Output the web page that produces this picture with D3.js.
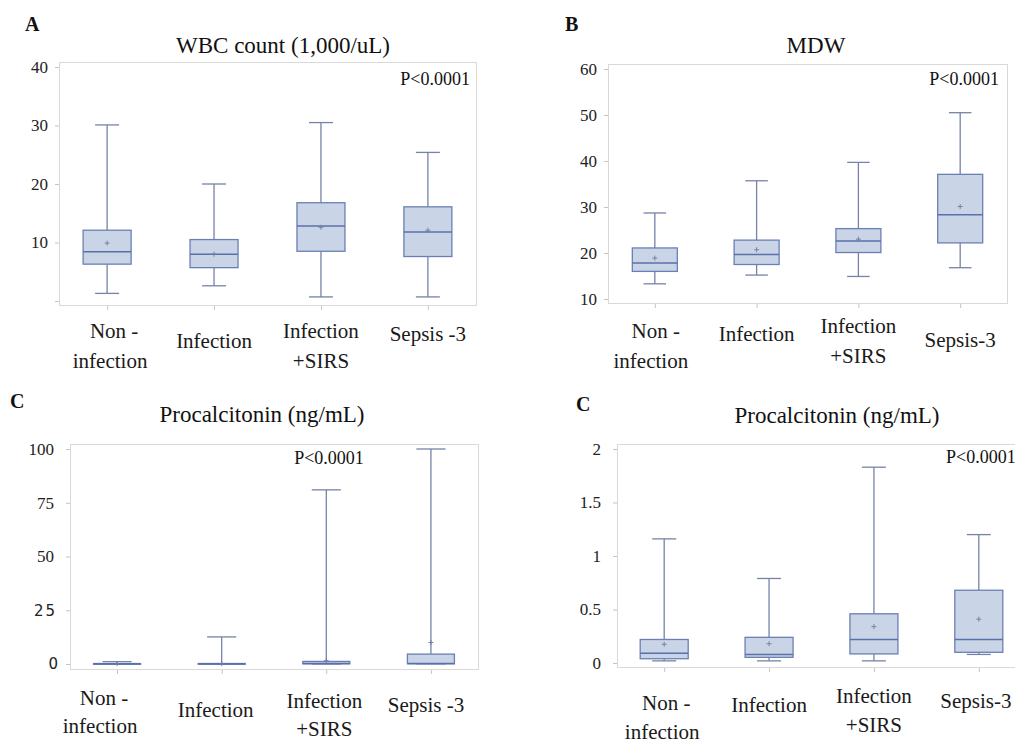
<!DOCTYPE html>
<html>
<head>
<meta charset="utf-8">
<script src="https://cdn.jsdelivr.net/npm/d3@7.9.0/dist/d3.min.js"></script>
<style>
  body { margin: 0; background: #fff; }
  svg { display: block; font-family: "Liberation Serif", "Times New Roman", serif; }
</style>
</head>
<body>
<svg id="chart" width="1015" height="743"></svg>
<script>
// groups, same order in every panel
const groups = ['Non-infection', 'Infection', 'Infection+SIRS', 'Sepsis-3'];

// A: WBC count (1,000/uL)
const wbcMin = [1.3, 2.6, 0.7, 0.7];
const wbcQ1 = [6.3, 5.7, 8.5, 7.6];
const wbcMedian = [8.4, 8.0, 12.8, 11.8];
const wbcQ3 = [12.1, 10.5, 16.8, 16.1];
const wbcMax = [30.1, 20.0, 30.5, 25.4];
const wbcMean = [9.9, 8.0, 12.6, 12.1];
const wbcTicks = [0, 10, 20, 30, 40];

// B: MDW
const mdwMin = [13.3, 15.2, 14.9, 16.8];
const mdwQ1 = [16.0, 17.5, 20.1, 22.2];
const mdwMedian = [17.8, 19.7, 22.6, 28.3];
const mdwQ3 = [21.1, 22.8, 25.3, 37.1];
const mdwMax = [28.7, 35.7, 39.7, 50.5];
const mdwMean = [18.9, 20.7, 23.0, 30.1];
const mdwTicks = [10, 20, 30, 40, 50, 60];

// C: Procalcitonin (ng/mL), full range
const pctMin = [0.02, 0.02, 0.02, 0.08];
const pctQ1 = [0.04, 0.05, 0.09, 0.1];
const pctMedian = [0.09, 0.08, 0.22, 0.22];
const pctQ3 = [0.22, 0.24, 1.2, 4.6];
const pctMax = [1.1, 12.6, 81, 100];
const pctMean = [0.18, 0.18, 1.5, 10];
const pctTicks = [0, 25, 50, 75, 100];

// C: Procalcitonin (ng/mL), zoomed range
const pctZMin = [0.02, 0.02, 0.02, 0.08];
const pctZQ1 = [0.04, 0.053, 0.085, 0.1];
const pctZMedian = [0.09, 0.08, 0.22, 0.22];
const pctZQ3 = [0.22, 0.24, 0.46, 0.68];
const pctZMax = [1.16, 0.79, 1.83, 1.2];
const pctZMean = [0.175, 0.18, 0.34, 0.41];
const pctZTicks = [0, 0.5, 1, 1.5, 2];

const boxFill = '#c9d4e7';
const boxStroke = '#6a80b4';
const whiskerColor = '#7583a6';
const frameColor = '#d9d9d9';

const svg = d3.select('#chart');

function drawPanel(p) {
  const g = svg.append('g');

  // y scale: domain matched to where the tick values sit
  const y = d3.scaleLinear().domain(p.domain).range([p.y0, p.y1]);
  const x = d3.scalePoint().domain(groups).range([p.left, p.right]).padding(p.pad);

  // frame
  g.append('rect')
    .attr('x', p.left + 0.5).attr('y', p.top + 0.5)
    .attr('width', p.right - p.left).attr('height', p.bottom - p.top)
    .attr('fill', 'none').attr('stroke', frameColor);

  // y axis
  const yAxis = d3.axisLeft(y).tickValues(p.ticks).tickSize(4).tickPadding(p.tickPad)
    .tickFormat(p.fmt || (d => d));
  const ya = g.append('g').attr('transform', `translate(${p.left},0)`).call(yAxis);
  ya.select('.domain').remove();
  ya.selectAll('line').attr('stroke', '#c4c4c4');
  ya.selectAll('text').attr('font-size', 17).attr('fill', '#222')
    .attr('font-family', '"Liberation Serif", serif');
  if (p.styleTicks) p.styleTicks(ya);

  // x ticks under the frame
  const xAxis = d3.axisBottom(x).tickSize(4).tickFormat('');
  const xa = g.append('g').attr('transform', `translate(0,${p.bottom + 1})`).call(xAxis);
  xa.select('.domain').remove();
  xa.selectAll('line').attr('stroke', '#c4c4c4');

  const bw = p.boxW;
  const cw = bw * p.cap;
  const stats = groups.map((name, i) => ({
    name, min: p.min[i], q1: p.q1[i], med: p.med[i], q3: p.q3[i], max: p.max[i], mean: p.mean[i]
  }));

  const box = g.selectAll('.box').data(stats).enter().append('g')
    .attr('transform', d => `translate(${x(d.name)},0)`);

  // whiskers
  box.append('line').attr('x1', 0).attr('x2', 0)
    .attr('y1', d => y(d.q3)).attr('y2', d => y(d.max))
    .attr('stroke', whiskerColor).attr('stroke-width', 1.3);
  box.append('line').attr('x1', 0).attr('x2', 0)
    .attr('y1', d => y(d.q1)).attr('y2', d => y(d.min))
    .attr('stroke', whiskerColor).attr('stroke-width', 1.3);
  box.append('line').attr('x1', -cw / 2).attr('x2', cw / 2)
    .attr('y1', d => y(d.max)).attr('y2', d => y(d.max))
    .attr('stroke', whiskerColor).attr('stroke-width', 1.3);
  box.append('line').attr('x1', -cw / 2).attr('x2', cw / 2)
    .attr('y1', d => y(d.min)).attr('y2', d => y(d.min))
    .attr('stroke', whiskerColor).attr('stroke-width', 1.3);

  // box
  box.append('rect')
    .attr('x', -bw / 2).attr('width', bw)
    .attr('y', d => y(d.q3)).attr('height', d => Math.max(0.8, y(d.q1) - y(d.q3)))
    .attr('fill', boxFill).attr('stroke', boxStroke).attr('stroke-width', 1.3);
  box.append('line').attr('x1', -bw / 2).attr('x2', bw / 2)
    .attr('y1', d => y(d.med)).attr('y2', d => y(d.med))
    .attr('stroke', '#5a70aa').attr('stroke-width', 1.5);

  // mean marker
  box.append('path')
    .attr('d', d => `M-2.5,${y(d.mean)}h5M0,${y(d.mean) - 2.5}v5`)
    .attr('stroke', '#6c7aa4').attr('stroke-width', 0.9);

  // category labels
  stats.forEach((d, i) => {
    const lab = p.labels[i];
    const t = g.append('text')
      .attr('text-anchor', 'middle').attr('font-size', 21).attr('fill', '#1a1a1a');
    lab.lines.forEach((ln, k) => {
      t.append('tspan')
        .attr('x', x(d.name) + (lab.dx || 0) + (ln.dx || 0))
        .attr('y', p.bottom + lab.dy + k * p.lineH)
        .text(ln.t);
    });
  });

  // title, letter, p value
  g.append('text').attr('x', p.titleX).attr('y', p.titleY).attr('text-anchor', 'middle')
    .attr('font-size', 23).attr('fill', '#111').text(p.title);
  g.append('text').attr('x', p.letterX).attr('y', p.letterY)
    .attr('font-size', 20).attr('font-weight', 'bold').attr('fill', '#111').text(p.letter);
  g.append('text').attr('x', p.pX).attr('y', p.pY).attr('text-anchor', p.pAnchor)
    .attr('font-size', 18).attr('fill', '#111').text('P<0.0001');
}

drawPanel({
  letter: 'A', letterX: 25, letterY: 31,
  title: 'WBC count (1,000/uL)', titleX: 283, titleY: 53,
  left: 59, right: 476, top: 62, bottom: 305, pad: 0.45,
  domain: [0, 40], y0: 301, y1: 67, ticks: wbcTicks, tickPad: 7,
  fmt: d => (d === 0 ? '' : d),
  min: wbcMin, q1: wbcQ1, med: wbcMedian, q3: wbcQ3, max: wbcMax, mean: wbcMean,
  boxW: 48, cap: 0.5, lineH: 30,
  labels: [
    { dy: 33, lines: [{ t: 'Non -', dx: 7 }, { t: 'infection', dx: 3 }] },
    { dy: 43, lines: [{ t: 'Infection' }] },
    { dy: 33, lines: [{ t: 'Infection' }, { t: '+SIRS' }] },
    { dy: 36, lines: [{ t: 'Sepsis -3' }] }
  ],
  pX: 470, pY: 85, pAnchor: 'end'
});

drawPanel({
  letter: 'B', letterX: 565, letterY: 31,
  title: 'MDW', titleX: 816, titleY: 53,
  left: 608, right: 1007, top: 64, bottom: 303, pad: 0.46,
  domain: [10, 60], y0: 299, y1: 69, ticks: mdwTicks, tickPad: 7,
  min: mdwMin, q1: mdwQ1, med: mdwMedian, q3: mdwQ3, max: mdwMax, mean: mdwMean,
  boxW: 45, cap: 0.5, lineH: 30,
  labels: [
    { dy: 35, lines: [{ t: 'Non -', dx: 1 }, { t: 'infection', dx: -4 }] },
    { dy: 38, lines: [{ t: 'Infection' }] },
    { dy: 30, lines: [{ t: 'Infection' }, { t: '+SIRS' }] },
    { dy: 44, lines: [{ t: 'Sepsis-3' }] }
  ],
  pX: 999, pY: 85, pAnchor: 'end'
});

drawPanel({
  letter: 'C', letterX: 10, letterY: 408,
  title: 'Procalcitonin (ng/mL)', titleX: 262, titleY: 422,
  left: 70, right: 478, top: 444, bottom: 669, pad: 0.45,
  domain: [0, 100], y0: 664, y1: 449, ticks: pctTicks, tickPad: 12,
  styleTicks: a => {
    a.selectAll('text').filter(d => d === 25 || d === 0)
      .attr('font-family', '"DejaVu Sans", sans-serif').attr('font-size', 15)
      .attr('dx', d => (d === 0 ? 4 : 3)).attr('letter-spacing', d => (d === 25 ? 2 : 0));
  },
  min: pctMin, q1: pctQ1, med: pctMedian, q3: pctQ3, max: pctMax, mean: pctMean,
  boxW: 47, cap: 0.62, lineH: 28,
  labels: [
    { dy: 36, dx: -17, lines: [{ t: 'Non -', dx: 4 }, { t: 'infection' }] },
    { dy: 48, dx: -6, lines: [{ t: 'Infection' }] },
    { dy: 39, dx: -2, lines: [{ t: 'Infection' }, { t: '+SIRS' }] },
    { dy: 43, dx: -5, lines: [{ t: 'Sepsis -3' }] }
  ],
  pX: 329, pY: 464, pAnchor: 'middle'
});

drawPanel({
  letter: 'C', letterX: 576, letterY: 411,
  title: 'Procalcitonin (ng/mL)', titleX: 837, titleY: 423,
  left: 617, right: 1026, top: 444, bottom: 667, pad: 0.45,
  domain: [0, 2], y0: 663, y1: 449, ticks: pctZTicks, tickPad: 12,
  min: pctZMin, q1: pctZQ1, med: pctZMedian, q3: pctZQ3, max: pctZMax, mean: pctZMean,
  boxW: 48, cap: 0.5, lineH: 29,
  labels: [
    { dy: 43, lines: [{ t: 'Non -', dx: 2 }, { t: 'infection', dx: -2 }] },
    { dy: 45, lines: [{ t: 'Infection' }] },
    { dy: 36, lines: [{ t: 'Infection' }, { t: '+SIRS' }] },
    { dy: 41, dx: -3, lines: [{ t: 'Sepsis-3' }] }
  ],
  pX: 946, pY: 463, pAnchor: 'start'
});
</script>
</body>
</html>
